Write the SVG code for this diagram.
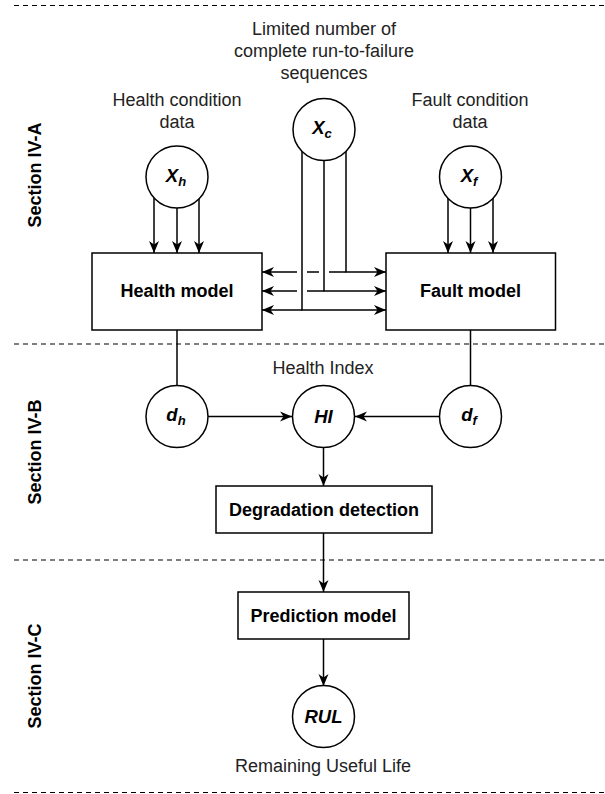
<svg xmlns="http://www.w3.org/2000/svg" width="605" height="794" viewBox="0 0 605 794">
<style>
.lbl{font-family:"Liberation Sans",Arial,sans-serif;font-size:18px;fill:#222;text-anchor:middle}
.bold{font-family:"Liberation Sans",Arial,sans-serif;font-size:18px;font-weight:bold;fill:#000;text-anchor:middle}
.var{font-family:"Liberation Sans",Arial,sans-serif;font-size:18.5px;font-weight:bold;font-style:italic;fill:#000;text-anchor:middle}
.sub{font-size:13px}
.node{fill:#fff;stroke:#000;stroke-width:1.5}
.edge{fill:none;stroke:#000;stroke-width:1.5}
.sep{fill:none;stroke:#000;stroke-width:1.2;stroke-dasharray:5 4}
.sec{font-family:"Liberation Sans",Arial,sans-serif;font-size:18px;font-weight:bold;fill:#000;text-anchor:middle}
</style>
<defs>
<marker id="arr" viewBox="0 0 12 11" refX="12" refY="5.5" markerWidth="12" markerHeight="11" markerUnits="userSpaceOnUse" orient="auto-start-reverse">
<path d="M0,0.5 L12,5.5 L0,10.5 L3.5,5.5 z" fill="#000"/>
</marker>
</defs>
<rect width="605" height="794" fill="#fff"/>
<g id="separators">
<line class="sep" x1="14" y1="5.5" x2="605" y2="5.5"/>
<line class="sep" x1="14" y1="344" x2="605" y2="344"/>
<line class="sep" x1="14" y1="560" x2="605" y2="560"/>
<line class="sep" x1="14" y1="792.5" x2="605" y2="792.5"/>
</g>
<g id="section-labels">
<text class="sec" transform="translate(41,175) rotate(-90)">Section IV-A</text>
<text class="sec" transform="translate(41,452) rotate(-90)">Section IV-B</text>
<text class="sec" transform="translate(41,676) rotate(-90)">Section IV-C</text>
</g>
<g id="labels">
<text class="lbl" x="324" y="35">Limited number of</text>
<text class="lbl" x="324" y="57">complete run-to-failure</text>
<text class="lbl" x="324" y="79">sequences</text>
<text class="lbl" x="177" y="106">Health condition</text>
<text class="lbl" x="177" y="128">data</text>
<text class="lbl" x="470" y="106">Fault condition</text>
<text class="lbl" x="470" y="128">data</text>
<text class="lbl" x="323" y="374">Health Index</text>
<text class="lbl" x="323" y="772">Remaining Useful Life</text>
</g>
<g id="connectors">
<line class="edge" x1="154" y1="198" x2="154" y2="253" marker-end="url(#arr)"/>
<line class="edge" x1="177" y1="208" x2="177" y2="253" marker-end="url(#arr)"/>
<line class="edge" x1="199" y1="198" x2="199" y2="253" marker-end="url(#arr)"/>
<line class="edge" x1="448" y1="198" x2="448" y2="253" marker-end="url(#arr)"/>
<line class="edge" x1="470.5" y1="208" x2="470.5" y2="253" marker-end="url(#arr)"/>
<line class="edge" x1="493" y1="198" x2="493" y2="253" marker-end="url(#arr)"/>
<path class="edge" d="M346,151 V272 H386" marker-end="url(#arr)"/>
<path class="edge" d="M346,272 H329 M319,272 H307 M297,272 H262" marker-end="url(#arr)"/>
<path class="edge" d="M324,160 V291 H386" marker-end="url(#arr)"/>
<path class="edge" d="M324,291 H307 M297,291 H262" marker-end="url(#arr)"/>
<path class="edge" d="M302,151 V310 H386" marker-end="url(#arr)"/>
<path class="edge" d="M302,310 H262" marker-end="url(#arr)"/>
<line class="edge" x1="177" y1="330" x2="177" y2="385"/>
<line class="edge" x1="470.5" y1="330" x2="470.5" y2="385"/>
<line class="edge" x1="208" y1="416.5" x2="292" y2="416.5" marker-end="url(#arr)"/>
<line class="edge" x1="439.5" y1="416.5" x2="355" y2="416.5" marker-end="url(#arr)"/>
<line class="edge" x1="323.5" y1="448" x2="323.5" y2="486" marker-end="url(#arr)"/>
<line class="edge" x1="323.5" y1="533" x2="323.5" y2="592" marker-end="url(#arr)"/>
<line class="edge" x1="323.5" y1="639" x2="323.5" y2="686" marker-end="url(#arr)"/>
</g>
<g id="node-Xc">
<circle class="node" cx="324" cy="129.5" r="31"/>
<text class="var" x="322" y="134">X<tspan class="sub" dy="4">c</tspan></text>
</g>
<g id="node-Xh">
<circle class="node" cx="177" cy="177" r="31"/>
<text class="var" x="176" y="182">X<tspan class="sub" dy="4">h</tspan></text>
</g>
<g id="node-Xf">
<circle class="node" cx="470.5" cy="177" r="31"/>
<text class="var" x="469" y="182">X<tspan class="sub" dy="4">f</tspan></text>
</g>
<g id="node-health-model">
<rect class="node" x="92" y="253" width="170" height="77"/>
<text class="bold" x="177" y="297">Health model</text>
</g>
<g id="node-fault-model">
<rect class="node" x="386" y="253" width="169.5" height="77"/>
<text class="bold" x="470.5" y="297">Fault model</text>
</g>
<g id="node-dh">
<circle class="node" cx="177" cy="416.5" r="31"/>
<text class="var" x="176" y="421">d<tspan class="sub" dy="4">h</tspan></text>
</g>
<g id="node-HI">
<circle class="node" cx="323.5" cy="416.5" r="31"/>
<text class="var" x="323.5" y="423">HI</text>
</g>
<g id="node-df">
<circle class="node" cx="470.5" cy="416.5" r="31"/>
<text class="var" x="469" y="421">d<tspan class="sub" dy="4">f</tspan></text>
</g>
<g id="node-degradation">
<rect class="node" x="216" y="486" width="216" height="47"/>
<text class="bold" x="324" y="516">Degradation detection</text>
</g>
<g id="node-prediction">
<rect class="node" x="238" y="592" width="171" height="47"/>
<text class="bold" x="323.5" y="622">Prediction model</text>
</g>
<g id="node-RUL">
<circle class="node" cx="323.5" cy="716.5" r="31"/>
<text class="var" x="323.5" y="723">RUL</text>
</g>
</svg>
